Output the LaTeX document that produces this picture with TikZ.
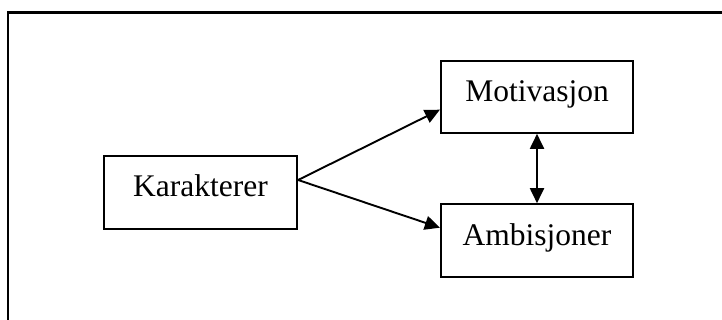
\documentclass[tikz,border=0pt]{standalone}
\usepackage{fontspec}
\setmainfont{Liberation Serif}
\usetikzlibrary{arrows.meta,calc}
\tikzset{
  box/.style={draw, line width=2.2pt, minimum width=192pt, minimum height=72pt, inner sep=0pt,
    text height=21pt, text depth=12pt, font=\fontsize{31.5}{36}\selectfont},
  conn/.style={line width=1.9pt, -{Triangle[length=15pt,width=14pt]}},
  bconn/.style={line width=1.9pt, {Triangle[length=15pt,width=14pt]}-{Triangle[length=15pt,width=14pt]}}
}
\begin{document}
\begin{tikzpicture}[x=1pt,y=-1pt]
\useasboundingbox (0,0) rectangle (722,320);
\clip (0,0) rectangle (722,320);
\draw[line width=2.2pt] (8,12.5) rectangle (740,340);
\node[box, minimum width=193pt, minimum height=72.7pt] (kar) at (200.5,192.4) {Karakterer};
\node[box] (mot) at (537,96.7) {Motivasjon};
\node[box, minimum height=72.4pt] (amb) at (537,240.5) {Ambisjoner};
\coordinate (ks) at ($(kar.east)+(0,-12.4)$);
\draw[conn] (ks) -- ($(mot.west)+(0,13)$);
\draw[conn] (ks) -- ($(amb.west)+(0,-12.8)$);
\draw[bconn] (mot.south) -- (amb.north);
\end{tikzpicture}
\end{document}
